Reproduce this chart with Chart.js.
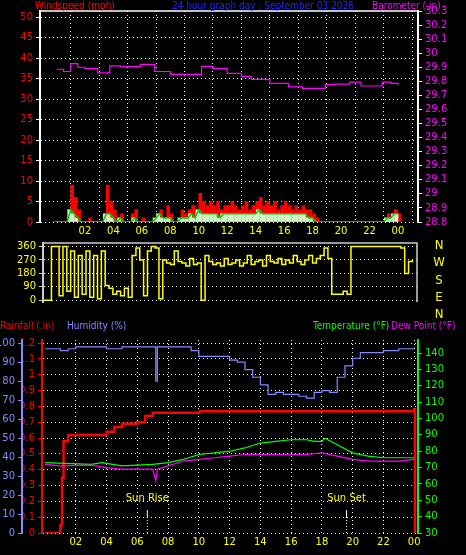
<!DOCTYPE html>
<html><head><meta charset="utf-8">
<script src="https://cdn.jsdelivr.net/npm/chart.js@4"></script>
<style>
body{margin:0;background:#000;width:466px;height:555px;overflow:hidden;position:relative;font-family:"DejaVu Sans",sans-serif}
canvas{position:absolute}
.t{position:absolute;font-size:10px;white-space:nowrap;line-height:12px;font-family:"DejaVu Sans Condensed","DejaVu Sans",sans-serif}
</style></head><body>
<canvas id="c1" style="left:0;top:0"></canvas>
<canvas id="c2" style="left:0;top:234px"></canvas>
<canvas id="c3" style="left:0;top:331px"></canvas>
<div class="t" style="left:35px;top:0;color:#f00">Windspeed (mph)</div>
<div class="t" style="left:172px;top:0;color:#22f">24 hour graph day : September 03 2026</div>
<div class="t" style="left:372px;top:0;color:#f0f">Barometer (.in)</div>
<div class="t" style="left:0;top:320px;color:#f00">Rainfall (.in)</div>
<div class="t" style="left:67px;top:320px;color:#88f">Humidity (%)</div>
<div class="t" style="left:313px;top:320px;color:#0f0">Temperature (°F)</div>
<div class="t" style="left:391px;top:320px;color:#f0f">Dew Point (°F)</div>
<div class="t" style="left:432px;top:236px;color:#ff0;font-size:13px;line-height:17.3px;text-align:center;width:14px">N<br>W<br>S<br>E<br>N</div>
<script>
// ---- data ----
const windHours = [];
for (let i = 0; i <= 96; i++) windHours.push(i / 4);
const windGust = [0,0,0,1, 9,6,3,0, 0,1,0,0, 0,0,9,5, 3,1,2,0, 0,2,3,0, 1,0,0,0, 2,3,1,4, 2,0,0,3, 2,3,4,2,
  7,5,4,5, 4,5,3,4, 4,5,4,3, 4,5,3,4, 5,6,4,5, 4,5,3,4, 5,4,3,4, 3,4,3,3, 2,1,0,0,
  0,0,0,0, 0,0,0,0, 0,0,0,0, 0,0,0,0, 0,2,1,3, 2];
const windAvg = [0,0,0,0, 3,2,1,0, 0,0,0,0, 0,0,2,2, 1,0,1,0, 0,0,1,0, 0,0,0,0, 1,2,1,1, 1,0,0,1, 1,1,2,1,
  3,2,2,2, 2,2,1,2, 2,2,2,2, 2,2,2,2, 2,3,2,2, 2,2,2,2, 2,2,2,2, 2,2,2,1, 1,0,0,0,
  0,0,0,0, 0,0,0,0, 0,0,0,0, 0,0,0,0, 0,1,1,2, 2];
const windDir = [0,0,360,360, 30,360,60,330, 20,300,40,330, 20,300,10,330, 100,80,40,60, 30,80,20,300,
  350,270,30,330, 360,350,10,270, 250,240,330,260, 250,230,280,240, 250,0,300,260, 240,250,230,280,
  240,250,270,230, 250,300,240,260, 270,230,300,260, 250,280,240,270, 250,300,260,240, 270,300,250,280,
  300,350,280,40, 40,40,60,40, 360,360,360,360, 360,360,360,360, 360,360,360,360, 360,350,180,260, 270];
const baroHours = [0,0.5,1,1.5,2,2.9,3.75,4.5,5.9,6.9,8,9.4,10.2,11,12,13,13.7,15,16.3,17.3,18.9,19.5,20.6,21.4,22.9,23.5,24];
const baroVals  = [29.886,29.87,29.926,29.9,29.89,29.86,29.91,29.905,29.92,29.87,29.85,29.85,29.907,29.89,29.857,29.835,29.814,29.786,29.76,29.75,29.776,29.78,29.795,29.767,29.795,29.785,29.77];
const humHours = [0,1,1.5,2,4,5,7,7.2,7.3,9,9.5,10,11,12,12.5,13,13.5,14,14.5,15,15.5,16,16.5,17,17.5,18,18.5,19,19.5,20,20.5,21,22,23,24];
const humVals  = [97,96,97,98,97,98,98,80,98,98,96,93,93,91,90,86,82,78,73,74,73,73,72,71,74,75,74,82,88,92,95,95,96,97,97];
const rainHours = [0,1,1.1,1.2,1.5,3.8,4,4.5,5,6,6.5,7,10,10.1,23.9,24,24.05];
const rainVals  = [0,0.05,0.35,0.58,0.62,0.62,0.64,0.67,0.69,0.70,0.74,0.76,0.765,0.77,0.77,0.78,0];
const tempHours = [0,3,3.7,5,7,8,9,10,11,12,13,14,15,16,17,17.5,18,18.2,19,20,21,22,23,24];
const tempVals  = [73,72,73,71,72,73,75,78,79,80,82,85,86,87,87,86,86,88,84,79,77,76,76,76];
const dewHours = [0,1,3,4,5,6,7,7.2,7.3,8,9,10,11,12,13,14,15,16,17,18,19,20,21,22,23,24];
const dewVals  = [72,71,71.5,70,69,69,69,62,69,71,74,75,76,77,78,78,78,78,78,79,77,75,74,74,74,75];
const hourTicks = [2,4,6,8,10,12,14,16,18,20,22,24];
const sunRise = 6.65, sunSet = 19.6;

const pts = (h, v) => h.map((x, i) => ({x, y: v[i]}));
const F = {family: 'DejaVu Sans', size: 10};
function xAxis(min, max, show) {
  return {type: 'linear', min, max, display: show,
    afterBuildTicks: s => { s.ticks = hourTicks.map(v => ({value: v})); },
    afterFit: s => { s.height = show ? 22 : 0; },
    ticks: {color: '#ff0', font: F, maxRotation: 0, autoSkip: false,
      callback: v => String(v % 24).padStart(2, '0')},
    grid: {color: '#fff', drawTicks: false, tickLength: 0},
    border: {display: false, dash: [1, 3]}};
}
function yAxis(pos, min, max, step, color, w, grid, lineColor, prec) {
  return {position: pos, min, max,
    afterBuildTicks: s => { const t = []; for (let v = Math.ceil(min/step - 1e-9)*step; v <= max + 1e-9; v += step) t.push({value: +v.toFixed(3)}); s.ticks = t; },
    afterFit: s => { s.width = w; },
    ticks: {color, font: F, padding: 3, autoSkip: false, callback: v => prec ? String(+v.toFixed(prec)) : v},
    grid: grid ? {color: '#fff', tickLength: 4, tickColor: lineColor} : {display: true, drawOnChartArea: false, tickLength: 4, color: lineColor},
    border: {display: true, color: lineColor, width: 2, dash: grid ? [1, 3] : []}};
}
const boxPlugin = color => ({id: 'box', afterDraw(c) {
  const a = c.chartArea, x = c.ctx; x.save(); x.strokeStyle = color; x.lineWidth = 1.5;
  x.beginPath(); x.moveTo(a.left, a.bottom); x.lineTo(a.left, a.top); x.lineTo(a.right, a.top); x.lineTo(a.right, a.bottom); x.stroke(); x.restore(); }});
const common = {responsive: false, animation: false, plugins: {legend: {display: false}, tooltip: {enabled: false}}};

// top: wind + barometer
const c1 = document.getElementById('c1'); c1.width = 466; c1.height = 244;
new Chart(c1, {
  data: {datasets: [
    {type: 'line', data: pts(windHours, windAvg), borderColor: '#0c0', borderWidth: 1.5, pointRadius: 0, yAxisID: 'y', order: 1},
    {type: 'bar', data: pts(windHours, windAvg), backgroundColor: '#cfc', barThickness: 3, yAxisID: 'y', order: 2},
    {type: 'bar', data: pts(windHours, windGust), backgroundColor: '#f00', barThickness: 3, yAxisID: 'y', order: 3},
    {type: 'line', data: pts(baroHours, baroVals), borderColor: '#f0f', borderWidth: 1.2, pointRadius: 0, stepped: true, yAxisID: 'y2', order: 0}
  ]},
  options: {...common, layout: {padding: {top: 11, left: 0, right: 0}},
    scales: {x: xAxis(-0.05, 24.3, true),
      y: yAxis('left', 0, 51.5, 5, '#f00', 40, true, '#fff'),
      y2: yAxis('right', 28.8, 30.3, 0.1, '#f0f', 48, false, '#fff', 1)}},
  plugins: [boxPlugin('#fff')]
});

// middle: wind direction
const c2 = document.getElementById('c2'); c2.width = 466; c2.height = 77;
new Chart(c2, {
  type: 'line',
  data: {datasets: [{data: pts(windHours, windDir), borderColor: '#ff0', borderWidth: 1.5, pointRadius: 0, stepped: true}]},
  options: {...common, layout: {padding: {top: 0, right: 0}},
    scales: {x: xAxis(-0.05, 24.3, false),
      y: yAxis('left', -11, 383, 90, '#ff0', 43, true, '#ccc'),
      yr: {position: 'right', display: true, afterFit: s => { s.width = 49; }, ticks: {display: false}, grid: {display: false}, border: {display: false}}}},
  plugins: [boxPlugin('#ccc')]
});

// bottom: rain, humidity, temperature, dew point
const sunPlugin = {id: 'sun', afterDraw(c) {
  const x = c.ctx, xs = c.scales.x, a = c.chartArea;
  x.save(); x.font = '10px DejaVu Sans'; x.textAlign = 'center'; x.fillStyle = '#ff0';
  [[sunRise, 'Sun Rise'], [sunSet, 'Sun Set']].forEach(([h, t]) => {
    const px = xs.getPixelForValue(h);
    x.fillText(t, px, a.bottom - 32);
    x.strokeStyle = '#fff'; x.lineWidth = 1; x.beginPath(); x.moveTo(px, a.bottom - 23); x.lineTo(px, a.bottom - 16); x.stroke();
    x.strokeStyle = '#ff0'; x.setLineDash([1, 2]); x.beginPath(); x.moveTo(px, a.bottom - 16); x.lineTo(px, a.bottom); x.stroke(); x.setLineDash([]);
  });
  x.restore(); }};
const c3 = document.getElementById('c3'); c3.width = 466; c3.height = 224;
new Chart(c3, {
  type: 'line',
  data: {datasets: [
    {data: pts(humHours, humVals), borderColor: '#88f', borderWidth: 1.2, pointRadius: 0, stepped: true, yAxisID: 'yh'},
    {data: pts(dewHours, dewVals), borderColor: '#f0f', borderWidth: 1.2, pointRadius: 0, yAxisID: 'yt'},
    {data: pts(tempHours, tempVals), borderColor: '#0f0', borderWidth: 1.2, pointRadius: 0, yAxisID: 'yt'},
    {data: pts(rainHours, rainVals), borderColor: '#f00', borderWidth: 2.5, pointRadius: 0, stepped: true, yAxisID: 'yr'}
  ]},
  options: {...common, layout: {padding: {top: 8, right: 0}},
    scales: {x: xAxis(-0.2, 24.25, true),
      yr: yAxis('left', 0, 1.22, 0.1, '#f00', 20, true, '#f00', 1),
      yh: yAxis('left', 0, 101.6, 10, '#88f', 22, false, '#88f'),
      yt: yAxis('right', 30, 148, 10, '#0f0', 48, false, '#0f0')}},
  plugins: [sunPlugin]
});
</script></body></html>
